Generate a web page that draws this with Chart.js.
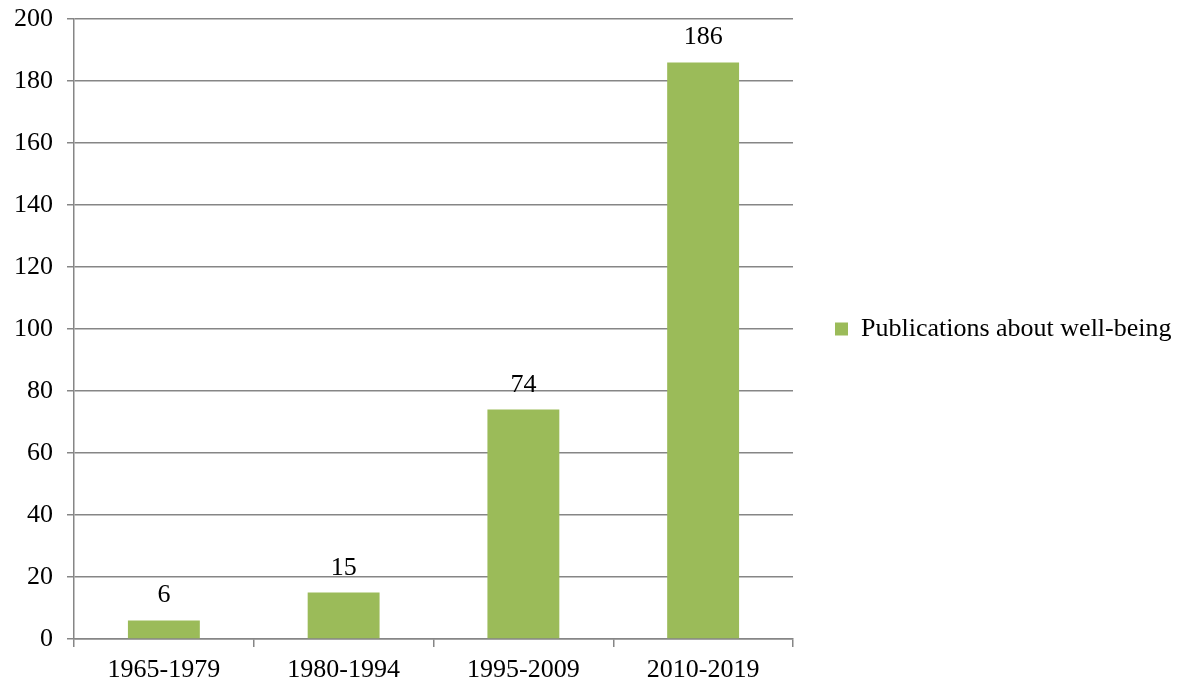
<!DOCTYPE html>
<html lang="en">
<head>
    <meta charset="UTF-8">
    <title>Publications about well-being</title>
    <script src="https://cdn.jsdelivr.net/npm/chart.js"></script>
    <style>
        html, body { margin: 0; padding: 0; background: #fff; }
        #chartBox { width: 1179px; height: 683px; position: relative; }
    </style>
</head>
<body>
    <div id="chartBox">
        <canvas id="pubChart"></canvas>
    </div>

    <script>
        // --- data ---
        const periods = ['1965-1979', '1980-1994', '1995-2009', '2010-2019'];
        const publications = [6, 15, 74, 186];
        const seriesName = 'Publications about well-being';
        const yTicks = [0, 20, 40, 60, 80, 100, 120, 140, 160, 180, 200];

        const barGreen = '#9bbb59';
        const axisGrey = '#868686';
        const serif = "'Liberation Serif', 'Times New Roman', serif";
        const fontSize = 26;

        // value labels above each bar
        const valueLabels = {
            id: 'valueLabels',
            afterDatasetsDraw(chart) {
                const ctx = chart.ctx;
                const meta = chart.getDatasetMeta(0);
                ctx.save();
                ctx.font = fontSize + 'px ' + serif;
                ctx.fillStyle = '#000';
                ctx.textAlign = 'center';
                ctx.textBaseline = 'alphabetic';
                meta.data.forEach((bar, i) => {
                    ctx.fillText(String(publications[i]), bar.x, bar.y - 18);
                });
                ctx.restore();
            }
        };

        // fixed legend column width; also pull the entry back to the vertical middle
        const legendWidth = {
            id: 'legendWidth',
            afterInit(chart) {
                const lg = chart.legend;
                if (!lg) return;
                const fit = lg.fit.bind(lg);
                lg.fit = function () {
                    fit();
                    this.width = 386;
                    if (this.columnSizes && this.columnSizes[0]) {
                        this.columnSizes[0].height += 44;
                    }
                };
            }
        };

        const ctx = document.getElementById('pubChart').getContext('2d');
        new Chart(ctx, {
            type: 'bar',
            data: {
                labels: periods,
                datasets: [{
                    label: seriesName,
                    data: publications,
                    backgroundColor: barGreen,
                    borderWidth: 0,
                    categoryPercentage: 1.0,
                    barPercentage: 0.4
                }]
            },
            options: {
                responsive: true,
                maintainAspectRatio: false,
                animation: false,
                layout: {
                    padding: { top: 19, right: 0, bottom: 0, left: 0 }
                },
                plugins: {
                    legend: {
                        position: 'right',
                        labels: {
                            boxWidth: 13,
                            boxHeight: 13,
                            padding: 42,
                            color: '#000',
                            font: { family: serif, size: fontSize }
                        }
                    },
                    tooltip: { enabled: false }
                },
                scales: {
                    x: {
                        afterFit(axis) {
                            axis.height = 44;
                            axis.paddingLeft = 0;
                            axis.paddingRight = 0;
                        },
                        grid: {
                            offset: true,
                            drawOnChartArea: false,
                            drawTicks: true,
                            tickLength: 8,
                            color: axisGrey,
                            lineWidth: 1.5
                        },
                        border: { color: axisGrey, width: 1.5 },
                        ticks: {
                            color: '#000',
                            padding: 8,
                            maxRotation: 0,
                            font: { family: serif, size: fontSize }
                        }
                    },
                    y: {
                        min: 0,
                        max: 200,
                        afterBuildTicks(axis) {
                            axis.ticks = yTicks.map(v => ({ value: v }));
                        },
                        afterFit(axis) {
                            axis.width = 74;
                            axis.paddingTop = 0;
                            axis.paddingBottom = 0;
                        },
                        grid: {
                            color: axisGrey,
                            lineWidth: 1.5,
                            drawTicks: true,
                            tickLength: 7
                        },
                        border: { color: axisGrey, width: 1.5 },
                        ticks: {
                            color: '#000',
                            padding: 14,
                            font: { family: serif, size: fontSize }
                        }
                    }
                }
            },
            plugins: [valueLabels, legendWidth]
        });
    </script>
</body>
</html>
